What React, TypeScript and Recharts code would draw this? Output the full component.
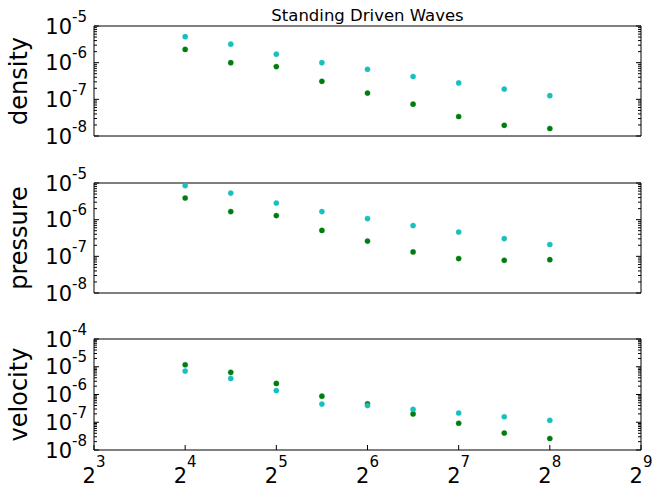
import React from 'react';
import { ScatterChart, Scatter, XAxis, YAxis } from 'recharts';

const W = 653;
const H = 491;
const FONT = '"DejaVu Sans", Verdana, sans-serif';
const GREEN = '#007d10';
const CYAN = '#17bfbf';

// grid resolutions (x values)
const resolutions = [16, 22.63, 32, 45.25, 64, 90.51, 128, 181.02, 256];
const xTicks = [8, 16, 32, 64, 128, 256, 512];
const xDomain = [8, 512];

const densityGreen = [2.3e-6, 1.0e-6, 7.8e-7, 3.1e-7, 1.48e-7, 7.4e-8, 3.4e-8, 1.96e-8, 1.6e-8];
const densityCyan = [5.1e-6, 3.2e-6, 1.7e-6, 1.0e-6, 6.6e-7, 4.2e-7, 2.8e-7, 1.9e-7, 1.26e-7];
const pressureGreen = [3.9e-6, 1.66e-6, 1.29e-6, 5.1e-7, 2.6e-7, 1.32e-7, 8.7e-8, 7.8e-8, 8.1e-8];
const pressureCyan = [8.5e-6, 5.3e-6, 2.85e-6, 1.66e-6, 1.07e-6, 6.9e-7, 4.6e-7, 3.05e-7, 2.1e-7];
const velocityGreen = [1.18e-5, 6.3e-6, 2.5e-6, 8.7e-7, 4.6e-7, 2.0e-7, 9.2e-8, 4.1e-8, 2.6e-8];
const velocityCyan = [7.0e-6, 3.8e-6, 1.38e-6, 4.5e-7, 4.0e-7, 2.9e-7, 2.15e-7, 1.58e-7, 1.17e-7];

const densityDecades = [-8, -7, -6, -5];
const pressureDecades = [-8, -7, -6, -5];
const velocityDecades = [-8, -7, -6, -5, -4];
const mantissas = [1, 2, 3, 4, 5, 6, 7, 8, 9];

const title = 'Standing Driven Waves';

function buildLogTicks(decades: number[]) {
  const out: number[] = [];
  decades.forEach((d, i) => {
    if (i === decades.length - 1) {
      out.push(Math.pow(10, d));
    } else {
      mantissas.forEach((m) => out.push(m * Math.pow(10, d)));
    }
  });
  return out;
}

const isMajor = (v: number) => Math.abs(Math.log10(v) - Math.round(Math.log10(v))) < 1e-6;

function LeftTick(props: any) {
  const { x, y, payload } = props;
  const v = payload.value;
  const major = isMajor(v);
  return (
    <g>
      <line x1={x} x2={x + (major ? 5 : 3)} y1={y} y2={y} stroke="#000" strokeWidth={1} />
      {major && (
        <text x={x - 7} y={y + 7.5} textAnchor="end" fontFamily={FONT} fontSize={21} fill="#000">
          10
          <tspan fontSize={15} dy={-12}>
            {String(Math.round(Math.log10(v)))}
          </tspan>
        </text>
      )}
    </g>
  );
}

function RightTick(props: any) {
  const { x, y, payload } = props;
  const major = isMajor(payload.value);
  return <line x1={x} x2={x - (major ? 5 : 3)} y1={y} y2={y} stroke="#000" strokeWidth={1} />;
}

function BottomTick(props: any) {
  const { x, y, payload } = props;
  const v = payload.value;
  const exp = Math.round(Math.log2(v));
  return (
    <g>
      <line x1={x} x2={x} y1={y} y2={y - 5} stroke="#000" strokeWidth={1} />
      <text x={x} y={y + 33} textAnchor="middle" fontFamily={FONT} fontSize={21} fill="#000">
        2
        <tspan fontSize={15} dy={-16}>
          {String(exp)}
        </tspan>
      </text>
    </g>
  );
}

function TopTick(props: any) {
  const { x, y } = props;
  return <line x1={x} x2={x} y1={y} y2={y + 5} stroke="#000" strokeWidth={1} />;
}

const Dot = (color: string) => (props: any) => (
  <circle cx={props.cx} cy={props.cy} r={2.6} fill={color} stroke={color} strokeWidth={0.4} />
);

type PanelProps = {
  green: number[];
  cyan: number[];
  decades: number[];
  label: string;
  top: number;
  bottom: number;
  showX: boolean;
};

function Panel({ green, cyan, decades, label, top, bottom, showX }: PanelProps) {
  const greenData = resolutions.map((x, i) => ({ x, y: green[i] }));
  const cyanData = resolutions.map((x, i) => ({ x, y: cyan[i] }));
  const yDomain = [Math.pow(10, decades[0]), Math.pow(10, decades[decades.length - 1])];
  const yTicks = buildLogTicks(decades);
  const bottomH = showX ? 40 : 10;
  const topH = 10;
  return (
    <div style={{ position: 'absolute', left: 0, top: 0, width: W, height: H }}>
      <ScatterChart
        width={W}
        height={H}
        margin={{ top: top - topH, bottom: H - bottom - bottomH, left: 0, right: 2 }}
      >
        <XAxis
          xAxisId="b"
          type="number"
          dataKey="x"
          scale="log"
          domain={xDomain}
          allowDataOverflow
          ticks={xTicks}
          interval={0}
          orientation="bottom"
          height={bottomH}
          tickSize={0}
          tickMargin={0}
          tickLine={false}
          axisLine={{ stroke: '#000', strokeWidth: 1 }}
          tick={showX ? <BottomTick /> : false}
        />
        <XAxis
          xAxisId="t"
          type="number"
          scale="log"
          domain={xDomain}
          allowDataOverflow
          ticks={xTicks}
          interval={0}
          orientation="top"
          height={topH}
          tickSize={0}
          tickMargin={0}
          tickLine={false}
          axisLine={{ stroke: '#000', strokeWidth: 1 }}
          tick={showX ? <TopTick /> : false}
        />
        <YAxis
          yAxisId="l"
          type="number"
          dataKey="y"
          scale="log"
          domain={yDomain}
          allowDataOverflow
          ticks={yTicks}
          interval={0}
          orientation="left"
          width={94}
          tickSize={0}
          tickMargin={0}
          tickLine={false}
          axisLine={{ stroke: '#000', strokeWidth: 1 }}
          tick={<LeftTick />}
          label={(p: any) => {
            const vb = p.viewBox || {};
            const cx = (vb.x ?? 0) + 27;
            const cy = (vb.y ?? 0) + (vb.height ?? 0) / 2;
            return (
              <text
                x={cx}
                y={cy}
                transform={`rotate(-90, ${cx}, ${cy})`}
                textAnchor="middle"
                fontFamily={FONT}
                fontSize={24}
                fill="#000"
              >
                {label}
              </text>
            );
          }}
        />
        <YAxis
          yAxisId="r"
          type="number"
          scale="log"
          domain={yDomain}
          allowDataOverflow
          ticks={yTicks}
          interval={0}
          orientation="right"
          width={10}
          tickSize={0}
          tickMargin={0}
          tickLine={false}
          axisLine={{ stroke: '#000', strokeWidth: 1 }}
          tick={<RightTick />}
        />
        <Scatter
          xAxisId="b"
          yAxisId="l"
          data={greenData}
          fill={GREEN}
          shape={Dot(GREEN)}
          isAnimationActive={false}
        />
        <Scatter
          xAxisId="b"
          yAxisId="l"
          data={cyanData}
          fill={CYAN}
          shape={Dot(CYAN)}
          isAnimationActive={false}
        />
      </ScatterChart>
    </div>
  );
}

export default function App() {
  return (
    <div style={{ position: 'absolute', left: 0, top: 0, width: W, height: H, background: '#fff' }}>
      <Panel green={densityGreen} cyan={densityCyan} decades={densityDecades} label="density" top={26} bottom={136} showX={false} />
      <Panel green={pressureGreen} cyan={pressureCyan} decades={pressureDecades} label="pressure" top={183} bottom={293} showX={false} />
      <Panel green={velocityGreen} cyan={velocityCyan} decades={velocityDecades} label="velocity" top={339} bottom={450} showX={true} />
      <svg width={W} height={H} style={{ position: 'absolute', left: 0, top: 0, pointerEvents: 'none' }}>
        <text x={367.5} y={21} textAnchor="middle" fontFamily={FONT} fontSize={16.5} fill="#000">
          {title}
        </text>
      </svg>
    </div>
  );
}
